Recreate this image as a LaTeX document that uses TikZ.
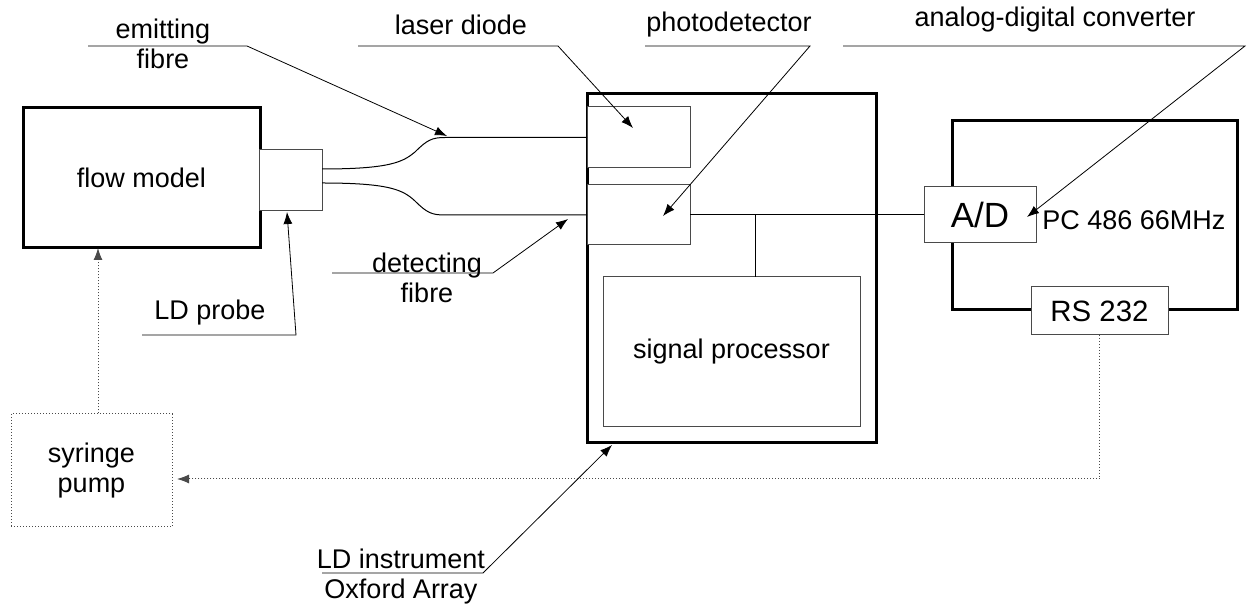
\documentclass[tikz,border=0pt]{standalone}
\usepackage{fontspec}
\setmainfont{Liberation Sans}
\usetikzlibrary{calc,arrows.meta}
\definecolor{EdgeGray}{HTML}{4A4A4A}
\tikzset{
  heavybox/.style={draw, line width=1.5pt, inner sep=0pt, outer sep=0pt},
  lightbox/.style={draw=EdgeGray, line width=0.5pt, fill=white, inner sep=0pt, outer sep=0pt},
  pumpbox/.style={draw=EdgeGray, densely dotted, line width=0.5pt, inner sep=0pt, align=center},
  caption/.style={align=center, inner sep=0pt},
  leader/.style={line width=0.4pt, -{Latex[length=6pt,width=4.5pt]}},
  fibre/.style={line width=0.5pt},
  ctrl/.style={draw=EdgeGray, densely dotted, line width=0.5pt, -{Latex[length=6pt,width=4.5pt]}}
}

\begin{document}
\begin{tikzpicture}[x=0.5pt,y=-0.5pt,
    every node/.append style={font=\fontsize{13.5}{15}\selectfont}]
  \useasboundingbox (0,0) rectangle (1247,608);

  \node[heavybox, minimum width=118.5pt, minimum height=70pt] (flow) at (141.5,178) {flow model};
  \node[lightbox, minimum width=31.5pt, minimum height=30.5pt] (probe) at (290.5,180.5) {};
  \node[heavybox, minimum width=144.5pt, minimum height=174.5pt] (instr) at (731.5,268.5) {};
  \node[lightbox, minimum width=51.5pt, minimum height=30.5pt] (diode) at (638.5,137.5) {};
  \node[lightbox, minimum width=51.5pt, minimum height=30pt] (detector) at (638.5,215) {};
  \node[lightbox, minimum width=128.5pt, minimum height=75pt] (sigproc) at (731.5,352) {signal processor};
  \node[heavybox, minimum width=142.5pt, minimum height=94.5pt] (pc) at (1094.5,215.5) {};
  \node[lightbox, minimum width=56pt, minimum height=28pt,
    font=\fontsize{17.5}{20}\selectfont] (adc) at (980,215) {A/D};
  \node[lightbox, minimum width=68.5pt, minimum height=24pt,
    font=\fontsize{14.7}{17}\selectfont] (rs) at (1099.5,311) {RS 232};
  \node[anchor=west, inner sep=0pt] (pcname) at (1042,220) {PC 486 66MHz};
  \node[pumpbox, minimum width=80.5pt, minimum height=56.5pt] (pump) at (91.5,470.5) {syringe\\pump};

  \node[caption] (emitlbl) at (163,44) {emitting\\fibre};
  \node[caption] (diodelbl) at (461,25) {laser diode};
  \node[caption] (detlbl) at (729,25) {photodetector};
  \node[caption] (adclbl) at (1055,20) {analog-digital converter};
  \node[caption] (probelbl) at (210,313) {LD probe};
  \node[caption] (detfibrelbl) at (427,277.5) {detecting\\fibre};
  \node[caption] (instrlbl) at (401,577) {LD instrument\\Oxford Array};

  \coordinate (emitA) at (88,46);
  \coordinate (emitB) at (247,46);
  \coordinate (emitTip) at (447,136);
  \coordinate (diodeA) at (358,46);
  \coordinate (diodeB) at (558,46);
  \coordinate (diodeTip) at (633,128);
  \coordinate (detA) at (645,46);
  \coordinate (detB) at (810,46);
  \coordinate (detTip) at (663,216);
  \coordinate (adcA) at (843,46);
  \coordinate (adcB) at (1245,46);
  \coordinate (adcTip) at (1027,217);
  \coordinate (probeA) at (142,335);
  \coordinate (probeB) at (296,335);
  \coordinate (probeTip) at (287,212);
  \coordinate (detfibreA) at (332,273);
  \coordinate (detfibreB) at (493,273);
  \coordinate (detfibreTip) at (568,219);
  \coordinate (instrA) at (322,573);
  \coordinate (instrB) at (483,573);
  \coordinate (instrTip) at (612,445);
  \coordinate (tap) at (755,215);
  \coordinate (feed) at (98,0);
  \coordinate (pumpIn) at (177,479);

  \draw[leader] (emitA) -- (emitB) -- (emitTip);
  \draw[leader] (diodeA) -- (diodeB) -- (diodeTip);
  \draw[leader] (detA) -- (detB) -- (detTip);
  \draw[leader] (adcA) -- (adcB) -- (adcTip);
  \draw[leader] (probeA) -- (probeB) -- (probeTip);
  \draw[leader] (detfibreA) -- (detfibreB) -- (detfibreTip);
  \draw[leader] (instrA) -- (instrB) -- (instrTip);

  \draw[fibre] ($(probe.east)+(0,-11.5)$) .. controls (390,169) and (403,162) .. (415,152)
    .. controls (427,140) and (432,137.5) .. (445,137.5) -- (diode.west);
  \draw[fibre] ($(probe.east)+(0,2.5)$) .. controls (390,183) and (403,190) .. (415,201)
    .. controls (427,213) and (432,215) .. (445,215) -- (detector.west);
  \draw[fibre] (detector.east) -- (adc.west);
  \draw[fibre] (tap) -- (tap |- sigproc.north);

  \draw[ctrl] (rs.south) |- (pumpIn);
  \draw[ctrl] (pump.north -| feed) -- (flow.south -| feed);
\end{tikzpicture}
\end{document}
